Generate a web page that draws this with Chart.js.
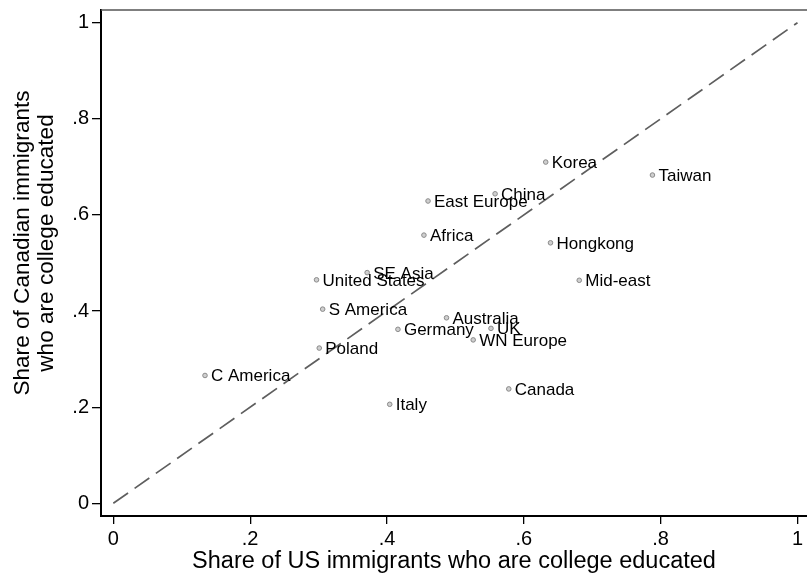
<!DOCTYPE html>
<html>
<head>
<meta charset="utf-8">
<script src="https://cdn.jsdelivr.net/npm/chart.js@4.4.1/dist/chart.umd.min.js"></script>
<style>
  html, body { margin: 0; padding: 0; background: #fff; }
  #wrap { width: 807px; height: 576px; }
</style>
</head>
<body>
<div id="wrap"><canvas id="myChart" width="807" height="576"></canvas></div>
<script>
// countries and their college shares (US on x, Canada on y)
var countries = ['Korea', 'China', 'East Europe', 'Africa', 'Hongkong', 'Mid-east', 'Taiwan',
    'Australia', 'Germany', 'UK', 'WN Europe', 'Canada', 'Italy', 'S America', 'Poland',
    'C America', 'United States', 'SE Asia'];
var usShare = [0.632, 0.558, 0.460, 0.454, 0.639, 0.681, 0.788,
    0.487, 0.416, 0.552, 0.526, 0.578, 0.404, 0.306, 0.301,
    0.134, 0.297, 0.371];
var caShare = [0.710, 0.644, 0.629, 0.558, 0.542, 0.464, 0.683,
    0.386, 0.362, 0.364, 0.340, 0.238, 0.206, 0.404, 0.323,
    0.266, 0.465, 0.480];

// 45 degree line
var diagX = [0, 1];
var diagY = [0, 1];

var tickValues = [0, 0.2, 0.4, 0.6, 0.8, 1];
var tickLabels = ['0', '.2', '.4', '.6', '.8', '1'];

var yTitle = ['Share of Canadian immigrants', 'who are college educated'];
var xTitle = 'Share of US immigrants who are college educated';

var pts = [];
for (var i = 0; i < countries.length; i++) {
    pts.push({ x: usShare[i], y: caShare[i] });
}
var diag = diagX.map(function (v, i) { return { x: v, y: diagY[i] }; });

var FONT = '"Liberation Sans", Arial, sans-serif';
Chart.defaults.font.family = FONT;
Chart.defaults.color = '#000';

function setTicks(scale) {
    scale.ticks = tickValues.map(function (v) { return { value: v }; });
}
function fmtTick(value) {
    var idx = tickValues.indexOf(value);
    return idx >= 0 ? tickLabels[idx] : '';
}

// labels at 3 o'clock of each marker
var pointLabels = {
    id: 'pointLabels',
    afterDatasetsDraw: function (chart) {
        var meta = chart.getDatasetMeta(1);
        var ctx = chart.ctx;
        ctx.save();
        ctx.font = '17px ' + FONT;
        ctx.fillStyle = '#000';
        ctx.textAlign = 'left';
        ctx.textBaseline = 'alphabetic';
        meta.data.forEach(function (el, i) {
            ctx.fillText(countries[i], el.x + 6, el.y + 6);
        });
        ctx.restore();
    }
};

// top frame line + two line y title (stata centres it a bit higher)
var extras = {
    id: 'extras',
    afterDraw: function (chart) {
        var a = chart.chartArea;
        var ctx = chart.ctx;
        ctx.save();
        ctx.strokeStyle = '#555';
        ctx.lineWidth = 1.5;
        ctx.beginPath();
        ctx.moveTo(a.left, a.top);
        ctx.lineTo(a.right, a.top);
        ctx.stroke();

        ctx.translate(0, 243);
        ctx.rotate(-Math.PI / 2);
        ctx.font = '22.6px ' + FONT;
        ctx.fillStyle = '#000';
        ctx.textAlign = 'center';
        ctx.textBaseline = 'middle';
        ctx.fillText(yTitle[0], 0, 22.5);
        ctx.fillText(yTitle[1], 0, 46.5);
        ctx.restore();
    }
};

const config = {
    type: 'scatter',
    data: {
        datasets: [{
            type: 'line',
            label: 'diag',
            data: diag,
            borderColor: '#5e5e5e',
            borderWidth: 1.7,
            borderDash: [18, 8],
            pointRadius: 0,
            pointHoverRadius: 0,
            fill: false
        }, {
            label: 'countries',
            data: pts,
            pointRadius: 2.3,
            pointHoverRadius: 2.3,
            pointBorderWidth: 1,
            pointBorderColor: '#8a8a8a',
            pointBackgroundColor: '#cfcfcf'
        }]
    },
    options: {
        responsive: false,
        animation: false,
        events: [],
        layout: { autoPadding: false, padding: { top: 10, left: 0, right: 0, bottom: 0 } },
        plugins: {
            legend: { display: false },
            tooltip: { enabled: false }
        },
        scales: {
            x: {
                type: 'linear',
                min: -0.018,
                max: 1.0139,
                afterBuildTicks: setTicks,
                afterFit: function (s) { s.height = 60; s.paddingLeft = 0; s.paddingRight = 0; },
                border: { display: true, color: '#000', width: 2 },
                grid: { drawOnChartArea: false, drawTicks: true, tickLength: 8, color: '#000', lineWidth: 1.3 },
                ticks: { callback: fmtTick, font: { size: 20 }, padding: 3, maxRotation: 0, autoSkip: false },
                title: {
                    display: true,
                    text: xTitle,
                    font: { size: 23.5 },
                    padding: { top: 0, bottom: 0 }
                }
            },
            y: {
                type: 'linear',
                min: -0.0264,
                max: 1.0264,
                afterBuildTicks: setTicks,
                afterFit: function (s) { s.width = 101; s.paddingTop = 0; s.paddingBottom = 0; },
                border: { display: true, color: '#000', width: 2 },
                grid: { drawOnChartArea: false, drawTicks: true, tickLength: 9, color: '#000', lineWidth: 1.3 },
                ticks: { callback: fmtTick, font: { size: 20 }, padding: 3, autoSkip: false },
                title: { display: false }
            }
        }
    },
    plugins: [pointLabels, extras]
};

window.myChart = new Chart(document.getElementById('myChart'), config);
</script>
</body>
</html>
